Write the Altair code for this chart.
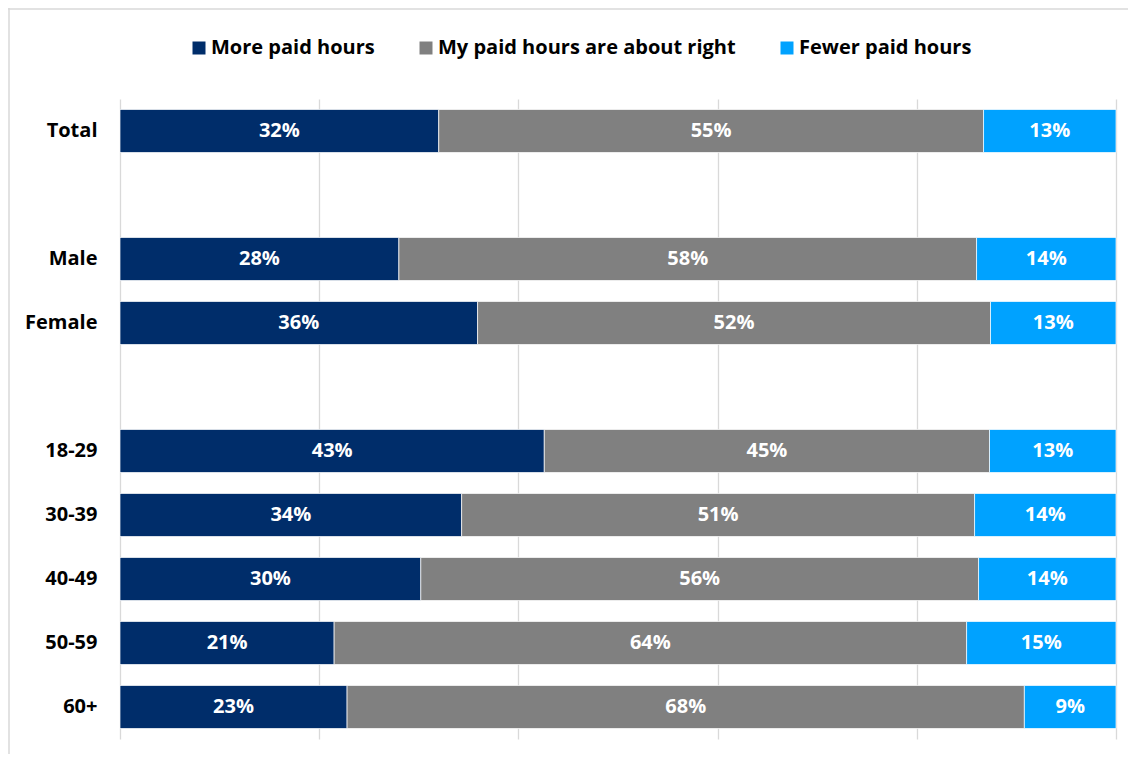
import altair as alt
import pandas as pd

rows = ["Total", " ", "Male", "Female", "  ", "18-29", "30-39", "40-49", "50-59", "60+"]
groups = ["Total", "Male", "Female", "18-29", "30-39", "40-49", "50-59", "60+"]
series = ["More paid hours", "My paid hours are about right", "Fewer paid hours"]
more = [0.320, 0.280, 0.359, 0.426, 0.343, 0.302, 0.215, 0.228]
right = [0.547, 0.580, 0.515, 0.447, 0.515, 0.560, 0.635, 0.680]
fewer = [0.133, 0.140, 0.126, 0.127, 0.142, 0.138, 0.150, 0.092]
more_lbl = ["32%", "28%", "36%", "43%", "34%", "30%", "21%", "23%"]
right_lbl = ["55%", "58%", "52%", "45%", "51%", "56%", "64%", "68%"]
fewer_lbl = ["13%", "14%", "13%", "13%", "14%", "14%", "15%", "9%"]
colors = ["#002D6A", "#808080", "#00A2FF"]

recs = []
for i, g in enumerate(groups):
    for k, (vals, lbls) in enumerate([(more, more_lbl), (right, right_lbl), (fewer, fewer_lbl)]):
        recs.append({"group": g, "series": series[k], "order": k, "value": vals[i], "label": lbls[i]})
df = pd.DataFrame(recs)

FONT = "Open Sans"
FS = 20

base = alt.Chart(df).transform_stack(
    stack="value", groupby=["group"], as_=["x0", "x1"], sort=[alt.SortField("order")]
).transform_calculate(mid="(datum.x0 + datum.x1) / 2")

yenc = alt.Y("group:N", scale=alt.Scale(domain=rows, paddingInner=0.328, paddingOuter=0.164),
             axis=alt.Axis(title=None, ticks=False, domain=False, labelFontSize=FS,
                           labelFont=FONT, labelFontWeight="bold", labelColor="black",
                           labelPadding=23, grid=False))

bars = base.mark_bar(stroke="white", strokeWidth=0.7).encode(
    x=alt.X("x0:Q", scale=alt.Scale(domain=[0, 1], nice=False),
            axis=alt.Axis(title=None, labels=False, ticks=False, domain=False,
                          values=[0, 0.2, 0.4, 0.6, 0.8, 1.0], grid=True,
                          gridColor="#D9D9D9", gridWidth=1.3)),
    x2="x1:Q",
    y=yenc,
    color=alt.Color("series:N", scale=alt.Scale(domain=series, range=colors),
                    legend=alt.Legend(title=None, orient="none", direction="horizontal",
                                      legendX=69, legendY=-61, symbolType="square",
                                      symbolSize=169, symbolStrokeWidth=0, labelFontSize=FS,
                                      labelFont=FONT, labelFontWeight="bold", labelColor="black",
                                      labelOffset=2, columnPadding=41, padding=0, labelLimit=500)),
    order=alt.Order("order:Q"),
)

texts = base.mark_text(color="white", fontSize=FS, font=FONT, fontWeight="bold",
                       align="center", baseline="middle").encode(
    x=alt.X("mid:Q"),
    y=alt.Y("group:N", scale=alt.Scale(domain=rows)),
    text="label:N",
)

frame_top = alt.Chart(pd.DataFrame({"a": [0]})).mark_rule(color="#D9D9D9", strokeWidth=1.5).encode(
    x=alt.value(-112), x2=alt.value(1200), y=alt.value(-90)
)
frame_left = alt.Chart(pd.DataFrame({"a": [0]})).mark_rule(color="#D9D9D9", strokeWidth=1.5).encode(
    x=alt.value(-111), y=alt.value(-91), y2=alt.value(900)
)

chart = alt.layer(bars, texts, frame_top, frame_left).properties(
    width=996, height=640,
    autosize=alt.AutoSizeParams(type="none"),
    padding={"left": 112, "top": 91, "right": 12, "bottom": 15},
).configure_view(stroke=None)

chart.save("out.html", embed_options={"renderer": "svg", "actions": False})
